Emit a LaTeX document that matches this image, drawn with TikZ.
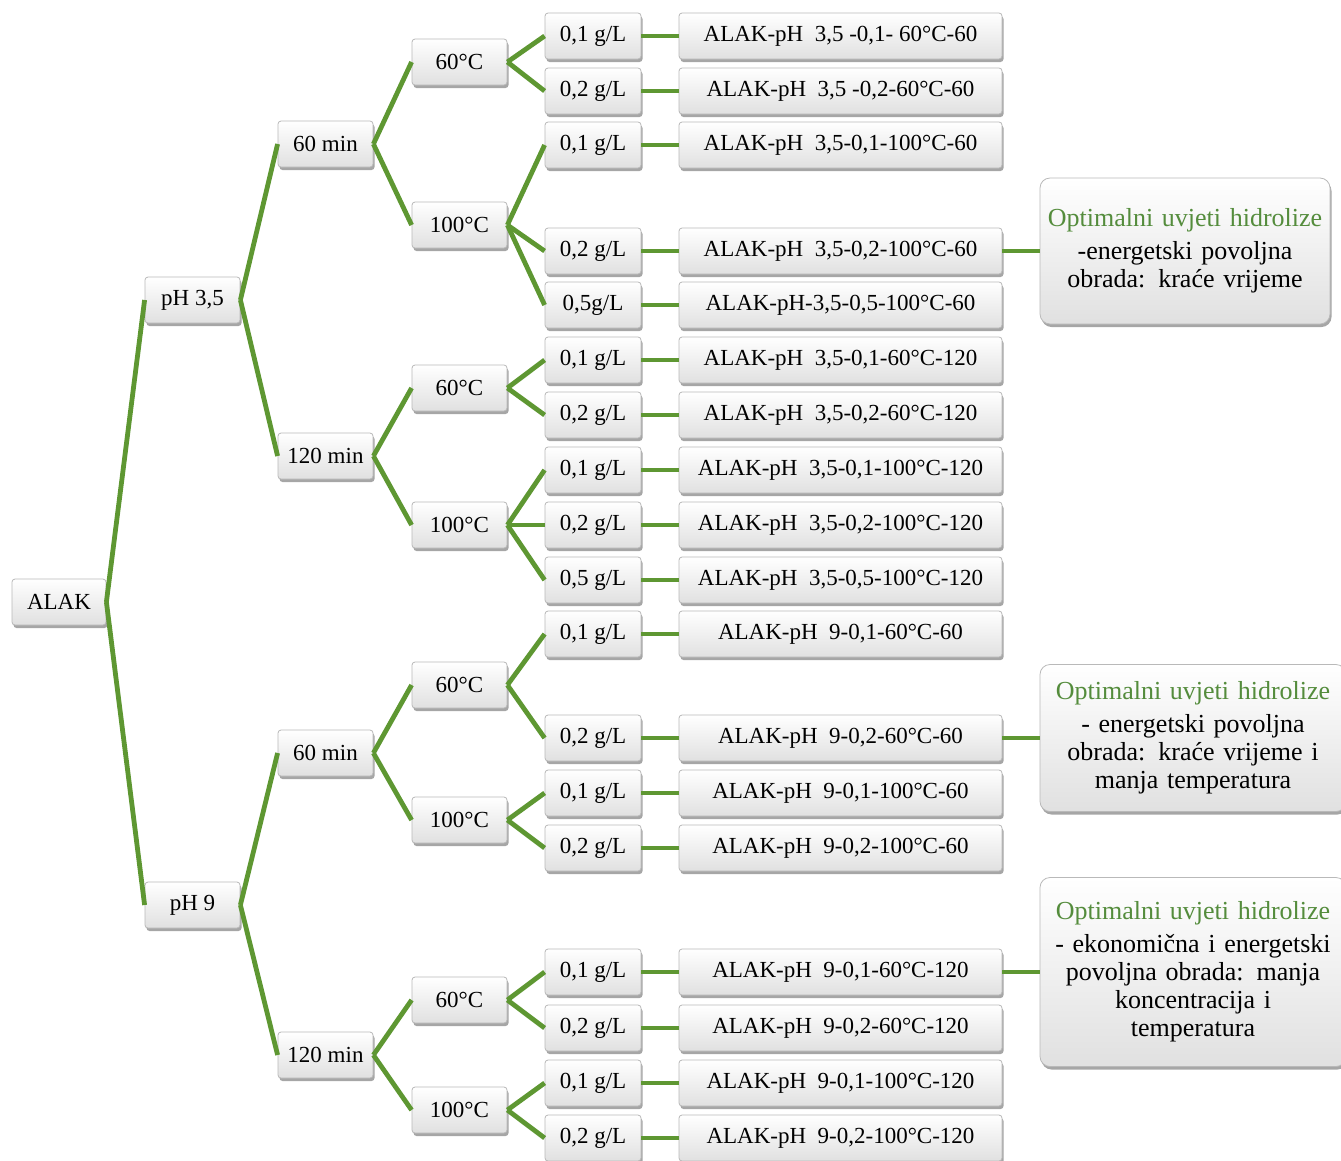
\documentclass[tikz,border=0pt]{standalone}
\usepackage{fontspec}
\setmainfont{Liberation Serif}
\usetikzlibrary{shadows}
\definecolor{lgreen}{RGB}{94,151,50}
\definecolor{tgreen}{RGB}{84,140,60}
\tikzset{
  bx/.style={rectangle, rounded corners=3pt, draw=gray!55, line width=0.8pt,
    top color=white, bottom color=gray!24, minimum height=46, inner sep=0pt,
    font=\fontsize{23}{27}\selectfont,
    drop shadow={shadow xshift=1.5pt, shadow yshift=-3pt, opacity=0.35, fill=black}},
  lvl/.style={bx, minimum width=95},
  cbx/.style={bx, minimum width=96},
  res/.style={bx, minimum width=323},
  opt/.style={bx, rounded corners=10pt, align=center, inner sep=0pt,
    font=\fontsize{26}{28}\selectfont},
  ln/.style={draw=lgreen, line width=4.8pt}
}
\newcommand{\opttitle}{{\color{tgreen}Optimalni uvjeti hidrolize}\\[5pt]}
\begin{document}
\begin{tikzpicture}[x=1pt,y=-1pt]
\useasboundingbox (0,0) rectangle (1341,1160);
\clip (0,0) rectangle (1341,1160);
% level 0-2
\node[lvl, minimum width=94] (alak) at (59,602) {ALAK};
\node[lvl] (pa) at (192.5,300) {pH 3,5};
\node[lvl] (pb) at (192.5,905) {pH 9};
\node[lvl] (m1) at (325.5,144) {60 min};
\node[lvl] (m2) at (325.5,456) {120 min};
\node[lvl] (m3) at (325.5,753) {60 min};
\node[lvl] (m4) at (325.5,1055) {120 min};
% temperatures
\node[lvl] (t1) at (459.5,62) {60°C};
\node[lvl] (t2) at (459.5,225) {100°C};
\node[lvl] (t3) at (459.5,388) {60°C};
\node[lvl] (t4) at (459.5,525) {100°C};
\node[lvl] (t5) at (459.5,685) {60°C};
\node[lvl] (t6) at (459.5,820) {100°C};
\node[lvl] (t7) at (459.5,1000) {60°C};
\node[lvl] (t8) at (459.5,1110) {100°C};
% concentrations
\node[cbx] (c1) at (593,36) {0,1 g/L};
\node[cbx] (c2) at (593,91) {0,2 g/L};
\node[cbx] (c3) at (593,145) {0,1 g/L};
\node[cbx] (c4) at (593,251) {0,2 g/L};
\node[cbx] (c5) at (593,305) {0,5g/L};
\node[cbx] (c6) at (593,360) {0,1 g/L};
\node[cbx] (c7) at (593,415) {0,2 g/L};
\node[cbx] (c8) at (593,470) {0,1 g/L};
\node[cbx] (c9) at (593,525) {0,2 g/L};
\node[cbx] (c10) at (593,580) {0,5 g/L};
\node[cbx] (c11) at (593,634) {0,1 g/L};
\node[cbx] (c12) at (593,738) {0,2 g/L};
\node[cbx] (c13) at (593,793) {0,1 g/L};
\node[cbx] (c14) at (593,848) {0,2 g/L};
\node[cbx] (c15) at (593,972) {0,1 g/L};
\node[cbx] (c16) at (593,1028) {0,2 g/L};
\node[cbx] (c17) at (593,1083) {0,1 g/L};
\node[cbx] (c18) at (593,1138) {0,2 g/L};
% results
\node[res] (r1) at (840.5,36) {ALAK-pH\ \ 3,5 -0,1-\ 60°C-60};
\node[res] (r2) at (840.5,91) {ALAK-pH\ \ 3,5 -0,2-60°C-60};
\node[res] (r3) at (840.5,145) {ALAK-pH\ \ 3,5-0,1-100°C-60};
\node[res] (r4) at (840.5,251) {ALAK-pH\ \ 3,5-0,2-100°C-60};
\node[res] (r5) at (840.5,305) {ALAK-pH-3,5-0,5-100°C-60};
\node[res] (r6) at (840.5,360) {ALAK-pH\ \ 3,5-0,1-60°C-120};
\node[res] (r7) at (840.5,415) {ALAK-pH\ \ 3,5-0,2-60°C-120};
\node[res] (r8) at (840.5,470) {ALAK-pH\ \ 3,5-0,1-100°C-120};
\node[res] (r9) at (840.5,525) {ALAK-pH\ \ 3,5-0,2-100°C-120};
\node[res] (r10) at (840.5,580) {ALAK-pH\ \ 3,5-0,5-100°C-120};
\node[res] (r11) at (840.5,634) {ALAK-pH\ \ 9-0,1-60°C-60};
\node[res] (r12) at (840.5,738) {ALAK-pH\ \ 9-0,2-60°C-60};
\node[res] (r13) at (840.5,793) {ALAK-pH\ \ 9-0,1-100°C-60};
\node[res] (r14) at (840.5,848) {ALAK-pH\ \ 9-0,2-100°C-60};
\node[res] (r15) at (840.5,972) {ALAK-pH\ \ 9-0,1-60°C-120};
\node[res] (r16) at (840.5,1028) {ALAK-pH\ \ 9-0,2-60°C-120};
\node[res] (r17) at (840.5,1083) {ALAK-pH\ \ 9-0,1-100°C-120};
\node[res] (r18) at (840.5,1138) {ALAK-pH\ \ 9-0,2-100°C-120};
% optimal boxes
\node[opt, minimum width=290, text width=290, minimum height=146] (o1) at (1185,251)
  {\opttitle -energetski povoljna\\obrada: kraće vrijeme};
\node[opt, minimum width=306, text width=306, minimum height=147] (o2) at (1193,738)
  {\opttitle - energetski povoljna\\obrada: kraće vrijeme i\\manja temperatura};
\node[opt, minimum width=306, text width=306, minimum height=189] (o3) at (1193,972)
  {\opttitle - ekonomična i energetski\\povoljna obrada: manja\\koncentracija i\\temperatura};
% connectors
\draw[ln] (alak.east) -- (pa.west);
\draw[ln] (alak.east) -- (pb.west);
\draw[ln] (pa.east) -- (m1.west);
\draw[ln] (pa.east) -- (m2.west);
\draw[ln] (pb.east) -- (m3.west);
\draw[ln] (pb.east) -- (m4.west);
\draw[ln] (m1.east) -- (t1.west);
\draw[ln] (m1.east) -- (t2.west);
\draw[ln] (m2.east) -- (t3.west);
\draw[ln] (m2.east) -- (t4.west);
\draw[ln] (m3.east) -- (t5.west);
\draw[ln] (m3.east) -- (t6.west);
\draw[ln] (m4.east) -- (t7.west);
\draw[ln] (m4.east) -- (t8.west);
\foreach \t/\c in {t1/c1,t1/c2,t2/c3,t2/c4,t2/c5,t3/c6,t3/c7,t4/c8,t4/c9,t4/c10,
                   t5/c11,t5/c12,t6/c13,t6/c14,t7/c15,t7/c16,t8/c17,t8/c18}
  \draw[ln] (\t.east) -- (\c.west);
\foreach \i in {1,...,18}
  \draw[ln] (c\i.east) -- (r\i.west);
\draw[ln] (r4.east) -- (o1.west);
\draw[ln] (r12.east) -- (o2.west);
\draw[ln] (r15.east) -- (o3.west);
\end{tikzpicture}
\end{document}
